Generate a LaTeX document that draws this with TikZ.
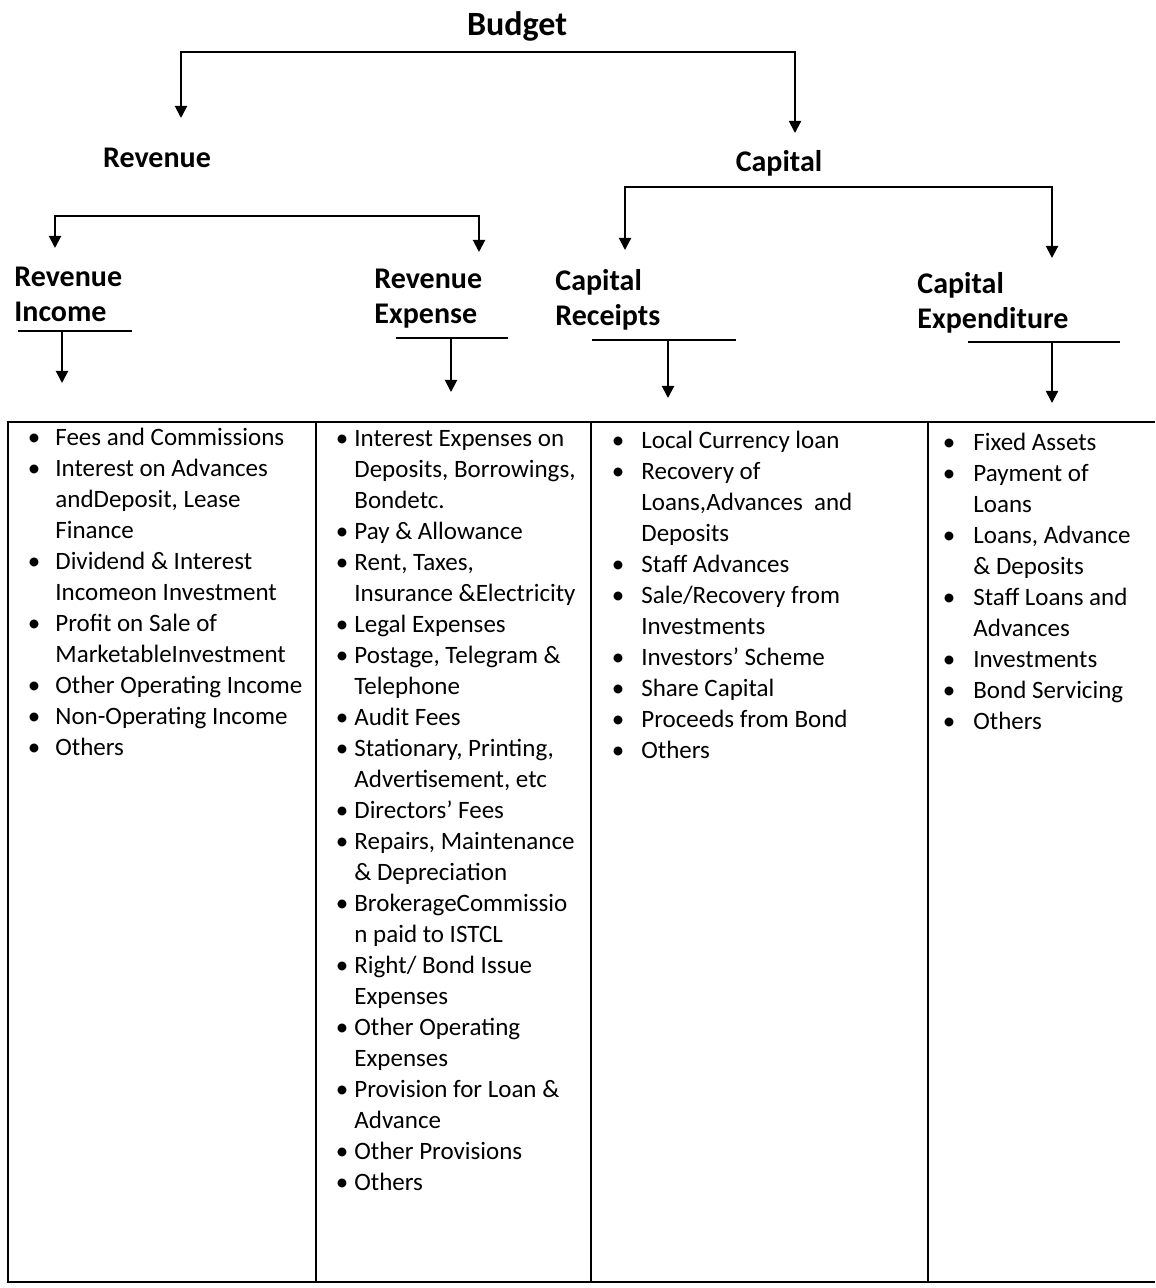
\documentclass[tikz,border=0pt]{standalone}
\usepackage{fontspec}
\setmainfont{Carlito}
\usetikzlibrary{arrows.meta}
\newcommand{\twoline}[2]{\begin{tabular}[t]{@{}l@{}}#1\\#2\end{tabular}}
\newcommand{\bl}{\textbullet}
\begin{document}
\begin{tikzpicture}[x=0.5pt,y=-0.5pt,
  hdr/.style={font=\fontsize{15}{17.5}\selectfont\bfseries, inner sep=0, anchor=base west},
  lst/.style={font=\fontsize{12.5}{15.5}\selectfont, inner sep=0, anchor=base west},
  conn/.style={line width=1pt, {Triangle[length=6pt,width=6pt]}-{Triangle[length=6pt,width=6pt]}},
  arr/.style={line width=1pt, -{Triangle[length=6pt,width=6pt]}},
  rulel/.style={line width=1pt},
  gridl/.style={line width=1.1pt}]
\useasboundingbox (0,0) rectangle (1155,1288);

% headings
\node[font=\fontsize{17}{20}\selectfont\bfseries, inner sep=0, anchor=base] (budget) at (517,36) {Budget};
\node[hdr, anchor=base] (rev) at (157,168) {Revenue};
\node[hdr, anchor=base] (cap) at (779,172) {Capital};
\node[hdr] (rinc) at (14,287) {\twoline{Revenue}{Income}};
\node[hdr] (rexp) at (374,289) {\twoline{Revenue}{Expense}};
\node[hdr] (crec) at (555,291) {\twoline{Capital}{Receipts}};
\node[hdr] (cexp) at (917,294) {\twoline{Capital}{Expenditure}};

% top-level connector
\coordinate (bL) at (181,52);
\coordinate (bR) at (795,52);
\coordinate (revIn) at (181,118);
\coordinate (capIn) at (795,133);
\draw[conn] (revIn) -- (bL) -- (bR) -- (capIn);

% revenue branch
\coordinate (rL) at (55,216);
\coordinate (rR) at (479,216);
\coordinate (rincIn) at (55,248);
\coordinate (rexpIn) at (479,252);
\draw[conn] (rincIn) -- (rL) -- (rR) -- (rexpIn);

% capital branch
\coordinate (cL) at (625,187);
\coordinate (cR) at (1052,187);
\coordinate (crecIn) at (625,250);
\coordinate (cexpIn) at (1052,258);
\draw[conn] (crecIn) -- (cL) -- (cR) -- (cexpIn);

% underlines and down arrows
\coordinate (u1a) at (18,331);  \coordinate (u1b) at (132,331);
\coordinate (u2a) at (396,338); \coordinate (u2b) at (508,338);
\coordinate (u3a) at (592,340); \coordinate (u3b) at (736,340);
\coordinate (u4a) at (968,342); \coordinate (u4b) at (1120,342);
\draw[rulel] (u1a) -- (u1b);
\draw[rulel] (u2a) -- (u2b);
\draw[rulel] (u3a) -- (u3b);
\draw[rulel] (u4a) -- (u4b);
\coordinate (d1a) at (62,331);   \coordinate (d1b) at (62,383);
\coordinate (d2a) at (451,338);  \coordinate (d2b) at (451,392);
\coordinate (d3a) at (668,340);  \coordinate (d3b) at (668,398);
\coordinate (d4a) at (1052,342); \coordinate (d4b) at (1052,403);
\draw[arr] (d1a) -- (d1b);
\draw[arr] (d2a) -- (d2b);
\draw[arr] (d3a) -- (d3b);
\draw[arr] (d4a) -- (d4b);

% table
\coordinate (tTL) at (8,422);   \coordinate (tTR) at (1155,422);
\coordinate (tBL) at (8,1282);  \coordinate (tBR) at (1155,1282);
\draw[gridl] (tTR) -- (tTL) -- (tBL) -- (tBR);
\coordinate (v1t) at (316,422); \coordinate (v1b) at (316,1282);
\coordinate (v2t) at (591,422); \coordinate (v2b) at (591,1282);
\coordinate (v3t) at (928,422); \coordinate (v3b) at (928,1282);
\draw[gridl] (v1t) -- (v1b);
\draw[gridl] (v2t) -- (v2b);
\draw[gridl] (v3t) -- (v3b);

% lists
\node[lst] (l1) at (27.5,445) {\begin{tabular}[t]{@{}p{13.75pt}@{}l@{}}
\bl & Fees and Commissions\\
\bl & Interest on Advances\\
    & andDeposit, Lease\\
    & Finance\\
\bl & Dividend \& Interest\\
    & Incomeon Investment\\
\bl & Profit on Sale of\\
    & MarketableInvestment\\
\bl & Other Operating Income\\
\bl & Non-Operating Income\\
\bl & Others
\end{tabular}};

\node[lst] (l2) at (335.5,446) {\begin{tabular}[t]{@{}p{9.25pt}@{}l@{}}
\bl & Interest Expenses on\\
    & Deposits, Borrowings,\\
    & Bondetc.\\
\bl & Pay \& Allowance\\
\bl & Rent, Taxes,\\
    & Insurance \&Electricity\\
\bl & Legal Expenses\\
\bl & Postage, Telegram \&\\
    & Telephone\\
\bl & Audit Fees\\
\bl & Stationary, Printing,\\
    & Advertisement, etc\\
\bl & Directors’ Fees\\
\bl & Repairs, Maintenance\\
    & \& Depreciation\\
\bl & BrokerageCommissio\\
    & n paid to ISTCL\\
\bl & Right/ Bond Issue\\
    & Expenses\\
\bl & Other Operating\\
    & Expenses\\
\bl & Provision for Loan \&\\
    & Advance\\
\bl & Other Provisions\\
\bl & Others
\end{tabular}};

\node[lst] (l3) at (611.5,448) {\begin{tabular}[t]{@{}p{14.75pt}@{}l@{}}
\bl & Local Currency loan\\
\bl & Recovery of\\
    & Loans,Advances\ \ and\\
    & Deposits\\
\bl & Staff Advances\\
\bl & Sale/Recovery from\\
    & Investments\\
\bl & Investors’ Scheme\\
\bl & Share Capital\\
\bl & Proceeds from Bond\\
\bl & Others
\end{tabular}};

\node[lst] (l4) at (942.5,450) {\begin{tabular}[t]{@{}p{15.25pt}@{}l@{}}
\bl & Fixed Assets\\
\bl & Payment of\\
    & Loans\\
\bl & Loans, Advance\\
    & \& Deposits\\
\bl & Staff Loans and\\
    & Advances\\
\bl & Investments\\
\bl & Bond Servicing\\
\bl & Others
\end{tabular}};
\end{tikzpicture}
\end{document}
